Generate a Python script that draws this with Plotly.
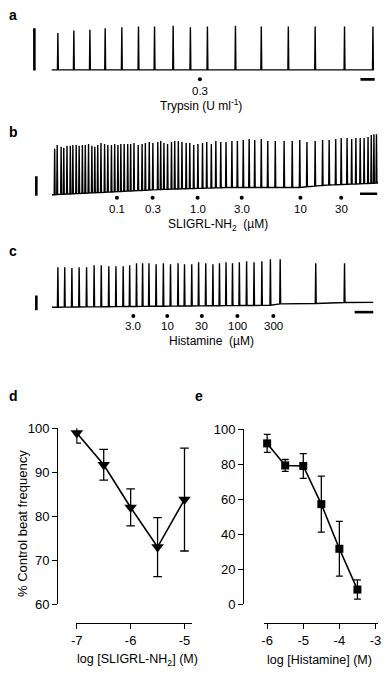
import numpy as np
import plotly.graph_objects as go

W, H = 387, 682
FONT = "Liberation Sans, Arial, Helvetica, sans-serif"

# ---------------- data: recordings (time in arbitrary units, amplitude in arbitrary units) ----
# Panel a: trypsin
a_spike_t = [54, 70.3, 86.7, 102.3, 119.3, 136.3, 152.7, 171.7, 189.3, 206.7,
             235.3, 261.7, 289.3, 316.7, 346.7, 375.7]
a_spike_amp = [37.6, 40.3, 41, 42.6, 43.6, 44.3, 44.3, 45, 43.6, 44.3,
               45, 44.3, 44.3, 44.3, 44.3, 44.3]
a_base_t = [47.7, 376.5]
a_base_y = [0, 0]
a_dose_t = [199]
a_dose_lbl = ["0.3"]

# Panel b: SLIGRL-NH2
b_spike_t = [50.7, 53.3, 57.3, 60, 63.3, 66.7, 69.3, 72.7, 75.7, 79, 82, 85.3, 88.7, 91.7,
             94.7, 98, 101.7, 105, 108.7, 112, 115.3, 118.3, 121.7, 125.3, 128.3, 131.7,
             136, 140, 143.3, 147.3, 151, 156, 159, 162.3, 166, 170, 173.3, 177, 180.7,
             185, 188.7, 192.7, 197, 201.7, 206, 210.7, 215.3, 220.3, 225.7, 231.7, 237.3,
             243.3, 249.3, 255, 261.7, 268.3, 276, 285, 293.3, 301, 308.3, 316.7, 324.3,
             331, 337.7, 343.3, 349.3, 354, 358.3, 362.7, 366.7, 370.7, 374, 376.7, 379.3]
b_spike_amp = [47, 51, 49, 48, 50, 50, 51, 51, 50, 51, 51, 52, 50, 49, 51, 53, 52, 51, 51,
               52, 51, 52, 52, 52, 52, 53, 51, 52, 53, 54, 53,
               54, 55, 53, 52, 54, 55, 55, 54, 53, 53, 51, 52, 53, 54, 52, 55, 54, 54, 55,
               55, 56, 57, 56, 57, 55,
               55, 55, 55, 56, 54, 55, 56, 56, 57, 58, 58, 57, 58, 58, 58, 59, 61, 62, 62]
b_base_t = [48, 100, 160, 230, 300, 330, 381]
b_base_y = [0, 2.5, 5.5, 7.5, 7.5, 10, 12]
b_dose_t = [114.3, 150.7, 196.7, 241.7, 301.7, 343.3]
b_dose_lbl = ["0.1", "0.3", "1.0", "3.0", "10", "30"]

# Panel c: histamine
c_spike_t = [54, 61, 68.3, 75.7, 83.3, 91, 98.3, 106, 113.3, 120.7, 127.3, 134.3, 140.5,
             147, 154.3, 161.7, 169, 176.7, 183.3, 190.7, 197.7, 205, 212.3, 219, 225.7,
             232.3, 239.3, 246.7, 254.3, 262.3, 271, 281, 317.3, 346.7]
c_spike_amp = [41, 41, 40, 41, 41, 43, 43, 42, 42, 42, 43, 45, 45, 45, 44, 45, 44, 45, 44,
               44, 46, 45, 44, 45, 46, 45, 46, 47, 46, 47, 49, 49, 45, 45]
c_base_t = [48, 150, 270, 285, 300, 320, 350, 376]
c_base_y = [0, 1, 2, 4, 2.5, 4, 5, 5]
c_dose_t = [131, 165.7, 201, 237.3, 274]
c_dose_lbl = ["3.0", "10", "30", "100", "300"]

# ---------------- data: concentration-response ----------------
d_logc = [-7, -6.5, -6, -5.5, -5]
d_mean = [98.9, 91.7, 82.0, 73.0, 83.8]
d_sem = [2.3, 3.5, 4.2, 6.7, 11.7]
d_xticks = [-7, -6, -5]
d_yticks = [60, 70, 80, 90, 100]

e_logc = [-6, -5.5, -5, -4.5, -4, -3.5]
e_mean = [91.9, 79.3, 79.0, 57.2, 31.7, 8.4]
e_sem = [5.1, 3.4, 7.1, 16.0, 15.6, 5.5]
e_xticks = [-6, -5, -4, -3]
e_yticks = [0, 20, 40, 60, 80, 100]


def px_x(p):
    return p / W


def px_y(p):
    return 1 - p / H


def recording(spike_t, spike_amp, base_t, base_y):
    xs, ys = [base_t[0]], [base_y[0]]
    for t, a in zip(spike_t, spike_amp):
        b = float(np.interp(t, base_t, base_y))
        xs += [t - 0.45, t, t + 0.45]
        ys += [b, a, b]
    xs.append(base_t[-1])
    ys.append(base_y[-1])
    return xs, ys


fig = go.Figure()

rec_panels = [
    # (axis suffix, spikes, amps, base_t, base_y, dose_t, labels, band top px, band bottom px, baseline px)
    ("", a_spike_t, a_spike_amp, a_base_t, a_base_y, a_dose_t, a_dose_lbl, 0, 85, 64.3),
    ("2", b_spike_t, b_spike_amp, b_base_t, b_base_y, b_dose_t, b_dose_lbl, 120, 200, 192),
    ("3", c_spike_t, c_spike_amp, c_base_t, c_base_y, c_dose_t, c_dose_lbl, 245, 320, 307),
]

dot_offsets = [-9.7, -3, -9]   # dots below baseline
label_shift = [12, 11, 10]

layout_axes = {}
annotations = []
shapes = []

for i, (sfx, st, sa, bt, by, dt, dl, top, bot, ref) in enumerate(rec_panels):
    xs, ys = recording(st, sa, bt, by)
    fig.add_trace(go.Scatter(x=xs, y=ys, mode="lines",
                             line=dict(color="black", width=1.4),
                             xaxis="x" + sfx, yaxis="y" + sfx, hoverinfo="skip"))
    fig.add_trace(go.Scatter(x=dt, y=[dot_offsets[i]] * len(dt), mode="markers",
                             marker=dict(color="black", size=4),
                             xaxis="x" + sfx, yaxis="y" + sfx, cliponaxis=False))
    for t, lab in zip(dt, dl):
        annotations.append(dict(x=t, y=dot_offsets[i], xref="x" + sfx, yref="y" + sfx,
                                text=lab, showarrow=False, yshift=-label_shift[i],
                                borderpad=0,
                                font=dict(size=11.5, family=FONT, color="black")))
    layout_axes["xaxis" + sfx] = dict(domain=[0, 1], range=[0, W], visible=False, fixedrange=True)
    layout_axes["yaxis" + sfx] = dict(domain=[px_y(bot), px_y(top)],
                                      range=[-(bot - ref), ref - top], visible=False)

# scale bars
bar = dict(type="line", line=dict(color="black", width=2.6))
shapes += [
    dict(bar, xref="x", yref="y", x0=30, x1=30, y0=-0.7, y1=42.6),
    dict(bar, xref="x", yref="y", x0=363, x1=377.5, y0=-9.7, y1=-9.7),
    dict(bar, xref="x2", yref="y2", x0=32, x1=32, y0=-1, y1=19),
    dict(bar, xref="x2", yref="y2", x0=362.5, x1=380, y0=1, y1=1),
    dict(bar, xref="x3", yref="y3", x0=32, x1=32, y0=-3, y1=12),
    dict(bar, xref="x3", yref="y3", x0=357, x1=376, y0=-5, y1=-5),
]

# concentration-response panels
fig.add_trace(go.Scatter(x=d_logc, y=d_mean, mode="lines+markers",
                         line=dict(color="black", width=1.6),
                         marker=dict(symbol="triangle-down", size=11, color="black"),
                         error_y=dict(type="data", array=d_sem, color="black",
                                      thickness=1.3, width=4.3),
                         xaxis="x4", yaxis="y4", cliponaxis=False))
fig.add_trace(go.Scatter(x=e_logc, y=e_mean, mode="lines+markers",
                         line=dict(color="black", width=1.6),
                         marker=dict(symbol="square", size=8, color="black"),
                         error_y=dict(type="data", array=e_sem, color="black",
                                      thickness=1.3, width=3.5),
                         xaxis="x5", yaxis="y5", cliponaxis=False))

ax_common = dict(showline=True, linecolor="black", linewidth=1.3, ticks="outside",
                 ticklen=5, tickwidth=1.3, tickcolor="black", showgrid=False,
                 zeroline=False, tickfont=dict(size=13, family=FONT, color="black"),
                 anchor="free")

layout_axes["xaxis4"] = dict(ax_common, domain=[px_x(72.7), px_x(190.7)],
                             range=[-7.011, -4.865], position=px_y(630),
                             tickvals=d_xticks, ticktext=[str(v) for v in d_xticks])
layout_axes["yaxis4"] = dict(ax_common, domain=[px_y(610.7), px_y(430.7)],
                             range=[60, 100], position=px_x(53.3),
                             tickvals=d_yticks, ticktext=[str(v) for v in d_yticks])
layout_axes["xaxis5"] = dict(ax_common, domain=[px_x(264), px_x(380.7)],
                             range=[-6.1, -2.935], position=px_y(630),
                             tickvals=e_xticks, ticktext=[str(v) for v in e_xticks])
layout_axes["yaxis5"] = dict(ax_common, domain=[px_y(610.7), px_y(431.7)],
                             range=[0, 100], position=px_x(243.3),
                             tickvals=e_yticks, ticktext=[str(v) for v in e_yticks])


def txt(x, y, s, size=12, bold=False, angle=0, xanchor="center"):
    if bold:
        s = "<b>" + s + "</b>"
    annotations.append(dict(x=px_x(x), y=px_y(y), xref="paper", yref="paper", text=s,
                            showarrow=False, textangle=angle, xanchor=xanchor,
                            yanchor="middle", borderpad=0,
                            font=dict(size=size, family=FONT, color="black")))


txt(3, 8, "a", 14, True, xanchor="left")
txt(3, 128, "b", 14, True, xanchor="left")
txt(3, 249, "c", 14, True, xanchor="left")
txt(3, 398, "d", 14, True, xanchor="left")
txt(193, 398, "e", 14, True, xanchor="left")

txt(200, 100, "Trypsin (U ml<sup>-1</sup>)", 12)
txt(217, 222.5, "SLIGRL-NH<sub>2</sub>  (\u00b5M)", 12)
txt(211, 341.5, "Histamine  (\u00b5M)", 12)
txt(135, 668, "log [SLIGRL-NH<sub>2</sub>] (M)", 12.5)
txt(321, 668, "log [Histamine] (M)", 12.5)
txt(18, 528, "% Control beat frequency", 13, angle=-90)

fig.update_layout(width=W, height=H, margin=dict(l=0, r=0, t=0, b=0),
                  paper_bgcolor="white", plot_bgcolor="rgba(0,0,0,0)",
                  showlegend=False, annotations=annotations, shapes=shapes,
                  **layout_axes)

fig.write_html("out.html", config={"displayModeBar": False},
               post_script="document.body.style.margin='0px';"
                           "document.documentElement.style.overflow='hidden';")
